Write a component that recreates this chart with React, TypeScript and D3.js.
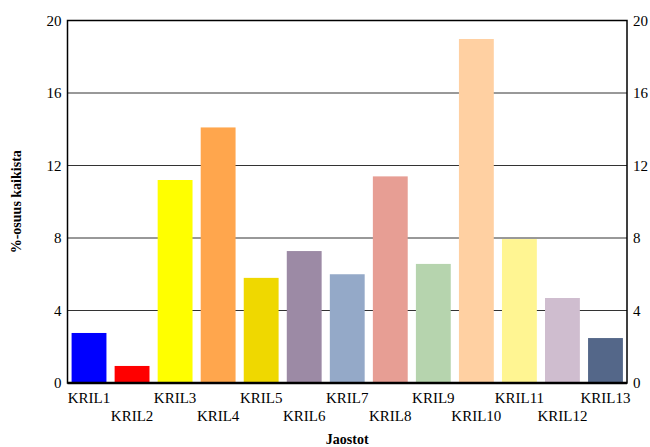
import React, { useRef, useEffect } from "react";
import * as d3 from "d3";

const WIDTH = 650;
const HEIGHT = 447;
const MARGIN = { top: 20.5, right: 23, bottom: 64, left: 67.5 };

const categories = [
  "KRIL1", "KRIL2", "KRIL3", "KRIL4", "KRIL5", "KRIL6", "KRIL7",
  "KRIL8", "KRIL9", "KRIL10", "KRIL11", "KRIL12", "KRIL13",
];
const values = [2.76, 0.94, 11.2, 14.1, 5.8, 7.28, 6.0, 11.4, 6.57, 18.98, 7.94, 4.69, 2.48];
const colors = [
  "#0000ff", "#ff0000", "#ffff00", "#ffa64d", "#efd800", "#9c8aa5", "#94a9c8",
  "#e79e94", "#b6d4ae", "#ffd0a2", "#fff592", "#cfbdcf", "#546789",
];
const yTicks = [0, 4, 8, 12, 16, 20];

export default function App() {
  const svgRef = useRef<SVGSVGElement | null>(null);

  useEffect(() => {
    const svg = d3.select(svgRef.current);
    svg.selectAll("*").remove();
    const font = "Liberation Serif";

    const x = d3
      .scaleBand()
      .domain(categories)
      .range([MARGIN.left, WIDTH - MARGIN.right])
      .paddingInner(0.19)
      .paddingOuter(0.095);
    const y = d3
      .scaleLinear()
      .domain([0, 20])
      .range([HEIGHT - MARGIN.bottom, MARGIN.top]);

    const left = MARGIN.left;
    const right = WIDTH - MARGIN.right;

    // Grid
    svg
      .append("g")
      .selectAll("line")
      .data(yTicks.filter((t) => t > 0 && t < 20))
      .enter()
      .append("line")
      .attr("x1", left)
      .attr("x2", right)
      .attr("y1", (d) => y(d))
      .attr("y2", (d) => y(d))
      .attr("stroke", "#333")
      .attr("stroke-width", 1);

    // Bars
    svg
      .append("g")
      .selectAll("rect")
      .data(values)
      .enter()
      .append("rect")
      .attr("x", (_d, i) => x(categories[i])!)
      .attr("width", x.bandwidth())
      .attr("y", (d) => y(d))
      .attr("height", (d) => y(0) - y(d))
      .attr("fill", (_d, i) => colors[i]);

    // Frame
    svg
      .append("rect")
      .attr("x", left)
      .attr("y", MARGIN.top)
      .attr("width", right - left)
      .attr("height", y(0) - MARGIN.top)
      .attr("fill", "none")
      .attr("stroke", "#000")
      .attr("stroke-width", 1.5);
    svg
      .append("line")
      .attr("x1", left)
      .attr("x2", right)
      .attr("y1", y(0))
      .attr("y2", y(0))
      .attr("stroke", "#000")
      .attr("stroke-width", 2.5);

    const texts = svg.append("g").style("font-family", font);

    // Y tick labels, both sides
    texts
      .append("g")
      .selectAll("text")
      .data(yTicks)
      .enter()
      .append("text")
      .attr("x", left - 6)
      .attr("y", (d) => y(d))
      .attr("dy", "0.35em")
      .attr("text-anchor", "end")
      .attr("font-size", 15)
      .text((d) => d);
    texts
      .append("g")
      .selectAll("text")
      .data(yTicks)
      .enter()
      .append("text")
      .attr("x", right + 6)
      .attr("y", (d) => y(d))
      .attr("dy", "0.35em")
      .attr("text-anchor", "start")
      .attr("font-size", 15)
      .text((d) => d);

    // X labels, staggered
    texts
      .append("g")
      .selectAll("text")
      .data(categories)
      .enter()
      .append("text")
      .attr("x", (d) => x(d)! + x.bandwidth() / 2)
      .attr("y", (_d, i) => (i % 2 === 0 ? 403 : 421))
      .attr("text-anchor", "middle")
      .attr("font-size", 15)
      .text((d) => d);

    // Axis titles
    texts
      .append("text")
      .attr("x", (left + right) / 2)
      .attr("y", 444)
      .attr("text-anchor", "middle")
      .attr("font-weight", "bold")
      .attr("font-size", 14)
      .text("Jaostot");
    texts
      .append("text")
      .attr("transform", `translate(21,${(MARGIN.top + y(0)) / 2}) rotate(-90)`)
      .attr("text-anchor", "middle")
      .attr("font-weight", "bold")
      .attr("font-size", 14)
      .text("%-osuus kaikista");
  }, []);

  return (
    <svg
      ref={svgRef}
      width={WIDTH}
      height={HEIGHT}
      style={{ position: "absolute", left: 0, top: 0, background: "#fff" }}
    />
  );
}
